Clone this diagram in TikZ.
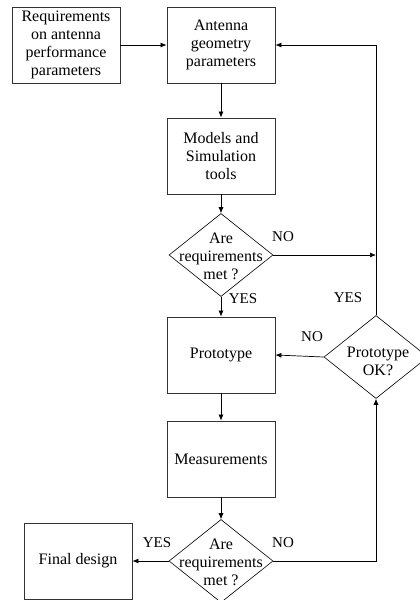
\documentclass[tikz,border=0pt]{standalone}
\usepackage{fontspec}
\setmainfont{Liberation Serif}
\usetikzlibrary{shapes.geometric,arrows.meta,positioning}

\begin{document}
\begin{tikzpicture}[
    x=1pt, y=-1pt,
    box/.style={draw=black!80, line width=0.8pt,
                minimum width=108pt, minimum height=76pt,
                inner sep=2pt, align=center,
                font=\fontsize{16}{18}\selectfont},
    decision/.style={draw, diamond, line width=0.6pt,
                     minimum width=104pt, minimum height=83pt, inner sep=0pt},
    dtext/.style={align=center, inner sep=0pt,
                  font=\fontsize{16}{18}\selectfont},
    lbl/.style={inner sep=0pt, font=\fontsize{15}{18}\selectfont},
    arr/.style={-{Latex[length=6pt,width=5pt]}, line width=0.7pt}]

    \useasboundingbox (0,0) rectangle (420,600);

    % Inputs and design loop
    \node[box] (req)   at ( 66,45) {Requirements\\on antenna\\performance\\parameters};
    \node[box] (geom)  at (221,45) {Antenna\\geometry\\parameters};
    \node[box] (model) at (221,156) {Models and\\Simulation\\tools};

    % First check
    \node[decision] (q1) at (221,255) {};
    \node[dtext] (q1txt) at (221,256) {Are\\requirements\\met ?};

    % Prototype stage
    \node[box] (proto) at (221,355) {Prototype};
    \node[decision] (ok) at (376,357) {};
    \node[dtext] (oktxt) at (378,361) {Prototype\\OK?};
    \node[box] (meas)  at (221,459) {Measurements};

    % Final check
    \node[decision] (q2) at (221,561) {};
    \node[dtext] (q2txt) at (221,562) {Are\\requirements\\met ?};
    \node[box] (final) at ( 78,561) {Final design};

    % Connectors
    \coordinate (nojoin) at (q1.east -| ok.north);
    \draw[arr] (req) -- (geom);
    \draw[arr] (geom) -- (model);
    \draw[arr] (model) -- (q1);
    \draw[arr] (q1) -- (proto);
    \draw[arr] (q1.east) -- (nojoin);
    \draw[arr] (ok.north) |- (geom.east);
    \draw[arr] (ok.west) -- (proto.east);
    \draw[arr] (proto) -- (meas);
    \draw[arr] (meas) -- (q2);
    \draw[arr] (q2.west) -- (final.east);
    \draw[arr] (q2.east) -| (ok.south);

    % Branch labels
    \node[lbl] (no1)  at (283,237) {NO};
    \node[lbl] (yes1) at (243,299) {YES};
    \node[lbl] (yes2) at (348,298) {YES};
    \node[lbl] (no2)  at (312,337) {NO};
    \node[lbl] (yes3) at (157,543) {YES};
    \node[lbl] (no3)  at (283,543) {NO};
  \end{tikzpicture}
\end{document}
